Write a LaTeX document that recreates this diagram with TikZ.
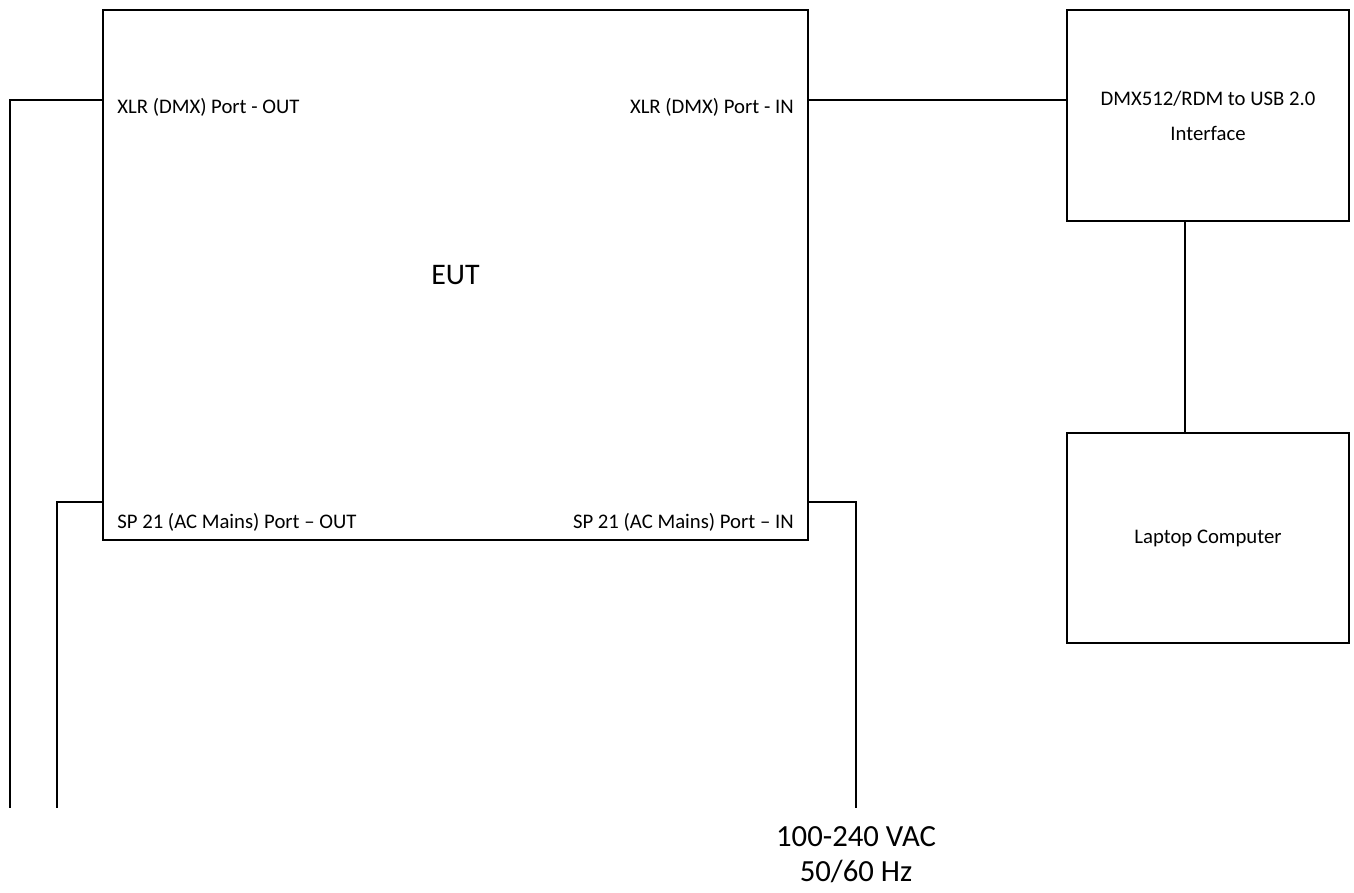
\documentclass[tikz,border=0pt]{standalone}
\usepackage{fontspec}
\setmainfont{Carlito}
\usetikzlibrary{positioning,calc}

\begin{document}
\begin{tikzpicture}[x=0.02cm, y=-0.02cm,
  box/.style={rectangle, draw, line width=1.1pt, align=center, inner sep=0pt},
  wire/.style={line width=1.1pt},
  port/.style={font=\fontsize{11.8}{14}\selectfont, inner sep=0pt},
  label/.style={font=\fontsize{11.8}{20}\selectfont, align=center},
]
\useasboundingbox (0,0) rectangle (1354,892);

% === TEST SET-UP ===
\node[box, minimum width=14.1cm, minimum height=10.6cm, font=\fontsize{17}{20}\selectfont] (eut) at (455.5,275) {EUT};

\node[box, label, minimum width=5.64cm, minimum height=4.22cm] (dmx) at (1208,115.5) {DMX512/RDM to USB 2.0\\Interface};
\node[box, label, minimum width=5.64cm, minimum height=4.2cm] (laptop) at (1208,538) {Laptop Computer};

% port labels inside the EUT
\node[port, anchor=west] (xlrout) at (117,107) {XLR (DMX) Port - OUT};
\node[port, anchor=east] (xlrin) at (794,107) {XLR (DMX) Port - IN};
\node[port, anchor=west] (acout) at (117,522) {SP 21 (AC Mains) Port -- OUT};
\node[port, anchor=east] (acin) at (794,522) {SP 21 (AC Mains) Port -- IN};

% cable ends
\coordinate (dmxport) at ($(eut.north east)+(0,91)$);
\coordinate (dmxthru) at ($(eut.north west)+(0,91)$);
\coordinate (acport) at ($(eut.north east)+(0,493)$);
\coordinate (acthru) at ($(eut.north west)+(0,493)$);
\coordinate (usbport) at ($(dmx.south)+(-23,0)$);
\coordinate (dmxend) at (10,808);
\coordinate (acend) at (57,808);
\coordinate (mainsend) at (856,808);

\draw[wire] (dmxport) -- (dmxport -| dmx.west);
\draw[wire] (usbport) -- (usbport |- laptop.north);
\draw[wire] (dmxthru) -| (dmxend);
\draw[wire] (acthru) -| (acend);
\draw[wire] (acport) -| (mainsend);

\node[font=\fontsize{17.5}{20}\selectfont, align=center] (mains) at (856,855) {100-240 VAC\\50/60 Hz};
\end{tikzpicture}
\end{document}
